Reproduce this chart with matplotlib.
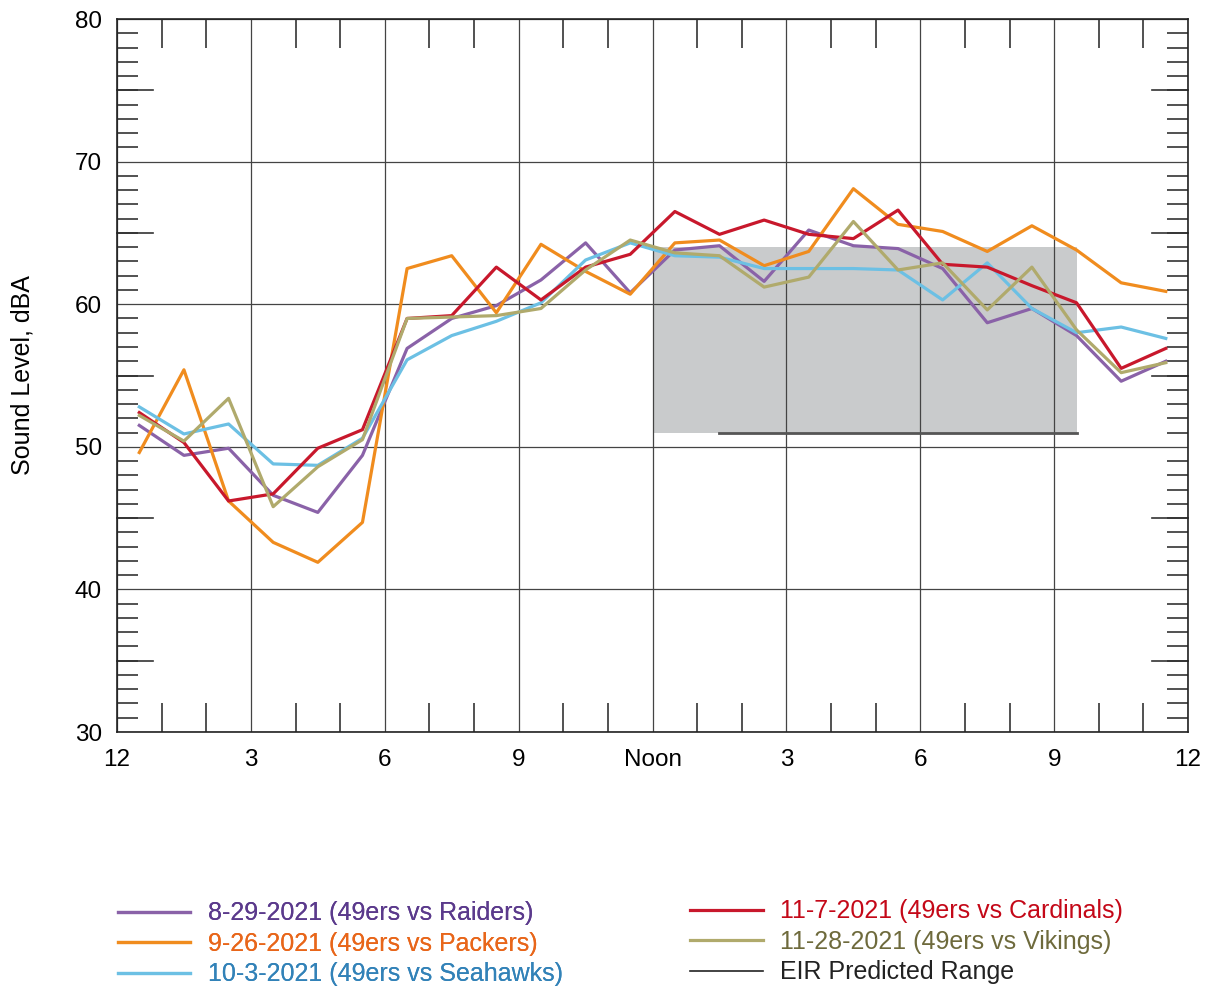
import numpy as np
import matplotlib
matplotlib.use("Agg")
from matplotlib import pyplot as plt
from matplotlib.lines import Line2D
from matplotlib.ticker import MultipleLocator

plt.rcParams['font.family'] = ['Liberation Sans', 'DejaVu Sans']

# hours (half-hour midpoints)
hours = np.arange(24) + 0.5

raiders = [51.5, 49.4, 49.9, 46.6, 45.4, 49.4, 56.9, 59.0, 59.9, 61.7, 64.3, 60.8,
           63.8, 64.1, 61.6, 65.2, 64.1, 63.9, 62.5, 58.7, 59.7, 57.8, 54.6, 56.0]
packers = [49.6, 55.4, 46.2, 43.3, 41.9, 44.7, 62.5, 63.4, 59.4, 64.2, 62.3, 60.7,
           64.3, 64.5, 62.7, 63.7, 68.1, 65.6, 65.1, 63.7, 65.5, 63.8, 61.5, 60.9]
seahawks = [52.8, 50.9, 51.6, 48.8, 48.7, 50.6, 56.1, 57.8, 58.8, 60.1, 63.1, 64.3,
            63.4, 63.3, 62.5, 62.5, 62.5, 62.4, 60.3, 62.9, 59.7, 58.0, 58.4, 57.6]
cardinals = [52.4, 50.3, 46.2, 46.7, 49.9, 51.2, 59.0, 59.2, 62.6, 60.3, 62.6, 63.5,
             66.5, 64.9, 65.9, 64.9, 64.6, 66.6, 62.8, 62.6, 61.3, 60.1, 55.5, 56.9]
vikings = [52.2, 50.4, 53.4, 45.8, 48.6, 50.5, 59.0, 59.1, 59.2, 59.7, 62.4, 64.5,
           63.6, 63.4, 61.2, 61.9, 65.8, 62.4, 62.9, 59.6, 62.6, 58.2, 55.2, 55.9]

eir_start, eir_end = 12, 21.5
eir_low, eir_high = 51, 64

xtick_pos = [0, 3, 6, 9, 12, 15, 18, 21, 24]
xtick_labels = ['12', '3', '6', '9', 'Noon', '3', '6', '9', '12']

series = [
    (raiders, '8-29-2021 (49ers vs Raiders)', '#8a62a8', '#5b3a8c'),
    (packers, '9-26-2021 (49ers vs Packers)', '#f08c1e', '#e8661a'),
    (seahawks, '10-3-2021 (49ers vs Seahawks)', '#6cc0e4', '#3282b8'),
    (cardinals, '11-7-2021 (49ers vs Cardinals)', '#c8182c', '#c40818'),
    (vikings, '11-28-2021 (49ers vs Vikings)', '#b0aa6c', '#6e6a3c'),
]

fig = plt.figure(figsize=(12.11, 9.9), dpi=100)
ax = fig.add_axes([0.0966, 0.2606, 0.8845, 0.7202])

# EIR predicted range box
ax.fill_between([eir_start, eir_end], eir_low, eir_high, color='#c9cbcc', zorder=1, lw=0)
ax.plot([13.5, eir_end], [eir_low, eir_low], color='#555555', lw=2, zorder=2)

for vals, lab, c, tc in series:
    ax.plot(hours, vals, color=c, lw=2.3, zorder=3)

ax.set_xlim(0, 24)
ax.set_ylim(30, 80)
ax.set_xticks(xtick_pos)
ax.set_xticklabels(xtick_labels)
ax.set_yticks(range(30, 81, 10))
ax.xaxis.set_minor_locator(MultipleLocator(1))
ax.yaxis.set_minor_locator(MultipleLocator(1))
ax.grid(True, which='major', color='#444444', lw=0.9, zorder=0)
ax.tick_params(which='major', direction='in', length=0, labelsize=17.5, top=True, right=True)
ax.tick_params(axis='x', which='major', pad=12)
ax.tick_params(axis='y', which='major', pad=11)
ax.tick_params(axis='x', which='minor', direction='in', length=21, width=1.2,
               top=True, bottom=True, color='#333333')
ax.tick_params(axis='y', which='minor', direction='in', length=15, width=1.2,
               left=True, right=True, color='#333333')
for v in range(35, 80, 10):
    ax.plot([0, 0.8], [v, v], color='#333333', lw=1.2, zorder=2, clip_on=False)
    ax.plot([23.2, 24], [v, v], color='#333333', lw=1.2, zorder=2, clip_on=False)
for s in ax.spines.values():
    s.set_color('#222222')
    s.set_linewidth(1.2)
ax.set_ylabel('Sound Level, dBA', fontsize=18, labelpad=29)

def make_handles(items):
    return [Line2D([], [], color=c, lw=2.3) for c in items]

leg_kw = dict(loc='upper left', frameon=False, fontsize=18, handlelength=2.9,
              handletextpad=0.7, labelspacing=0.26, borderpad=0, borderaxespad=0)

left = series[:3]
right = series[3:]
leg1 = fig.legend(make_handles([s[2] for s in left]), [s[1] for s in left],
                  bbox_to_anchor=(0.0974, 0.0894), labelcolor=[s[3] for s in left], **leg_kw)
fig.add_artist(leg1)
rh = make_handles([s[2] for s in right]) + [Line2D([], [], color='#222222', lw=1.2)]
rl = [s[1] for s in right] + ['EIR Predicted Range']
fig.legend(rh, rl, bbox_to_anchor=(0.5698, 0.0915),
           labelcolor=[s[3] for s in right] + ['#222222'], **leg_kw)

fig.savefig('out.png', dpi=100)
